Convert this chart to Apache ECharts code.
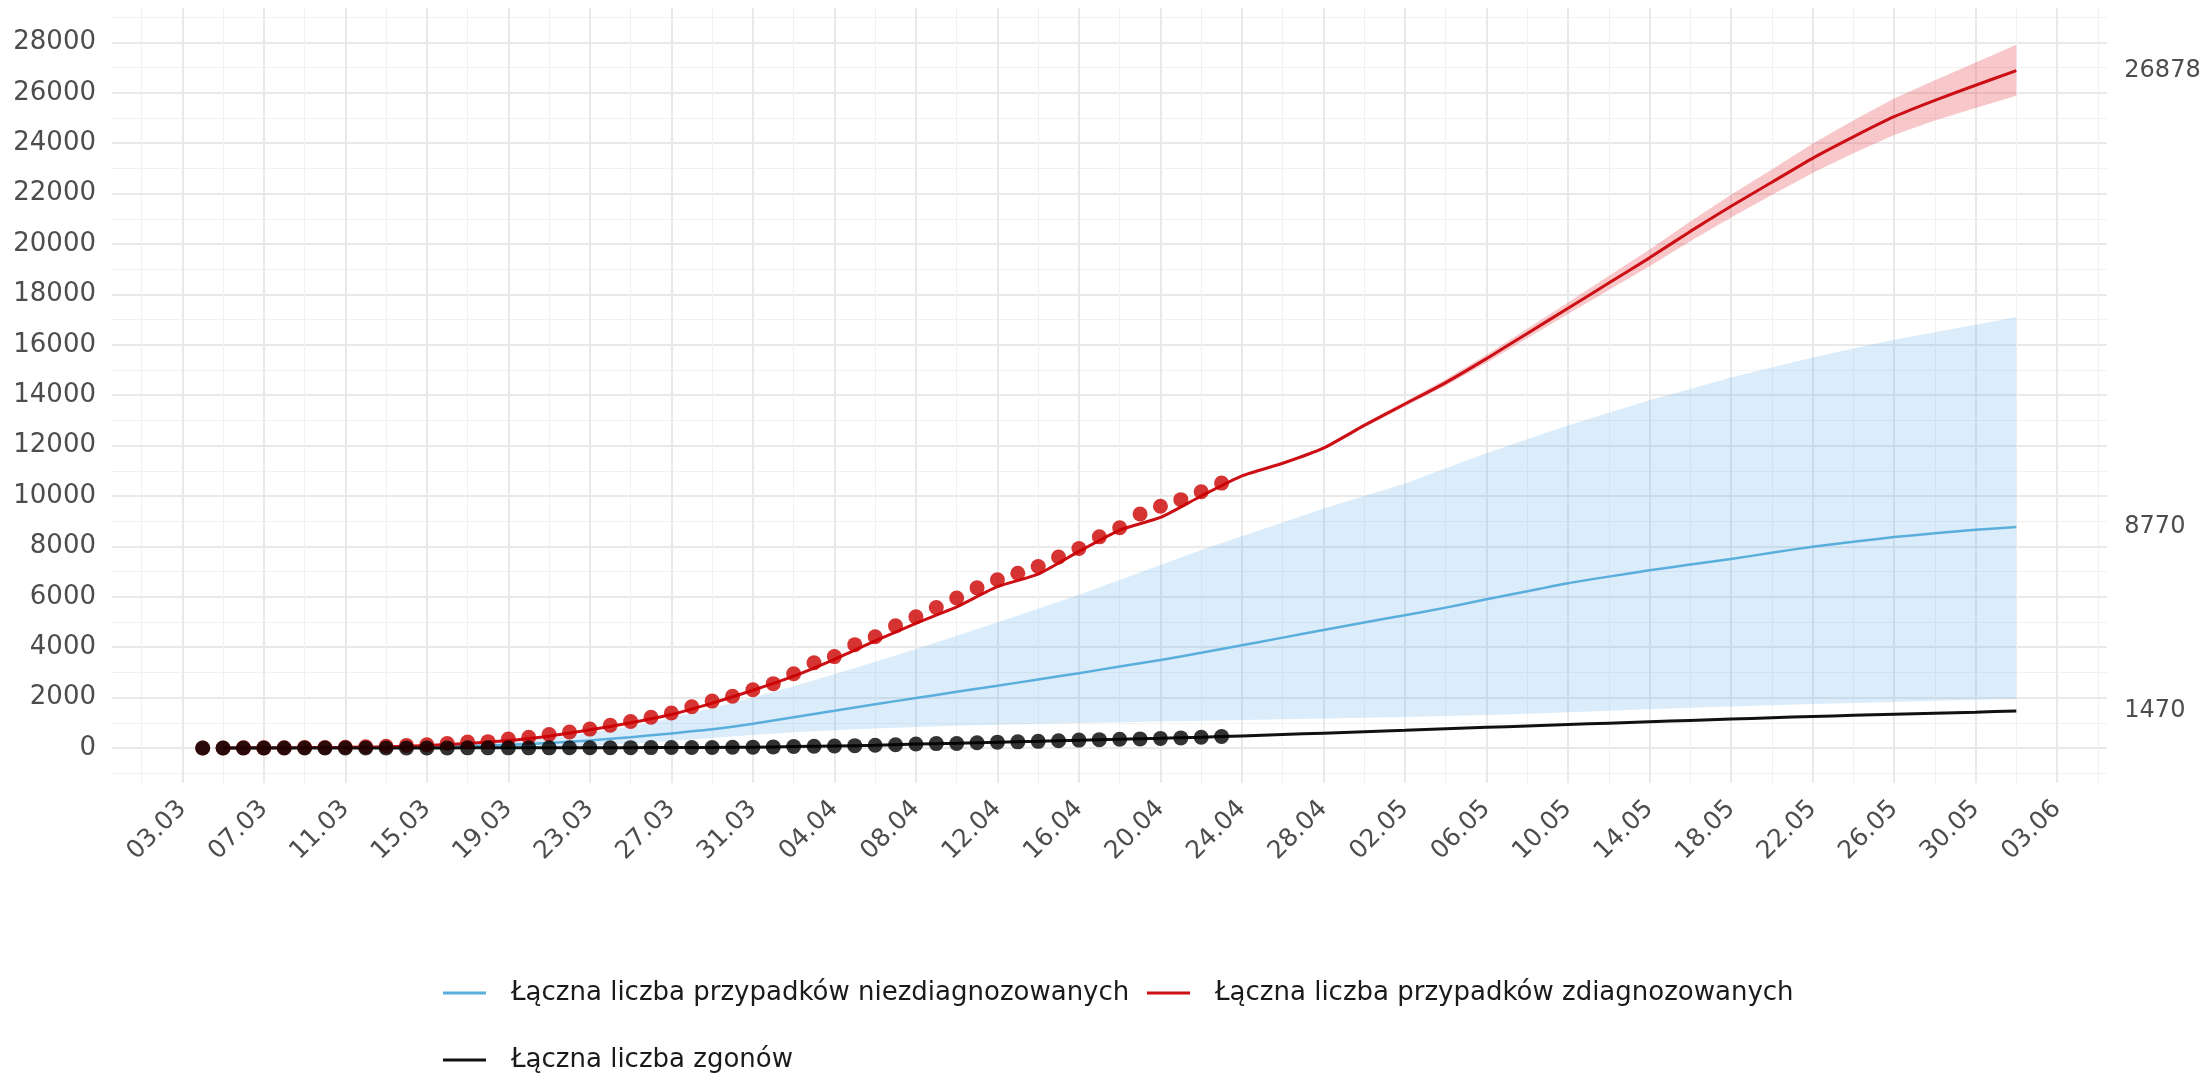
<!DOCTYPE html>
<html><head><meta charset="utf-8">
<script src="https://cdn.jsdelivr.net/npm/echarts@6/dist/echarts.min.js"></script>
<style>html,body{margin:0;padding:0;background:#fff}#chart{width:2208px;height:1081px}</style>
</head><body><div id="chart"></div>
<script>
// x = days since 03.03 (day 0); observed data start at day 1 (04.03)
const xTickDays   = [0,4,8,12,16,20,24,28,32,36,40,44,48,52,56,60,64,68,72,76,80,84,88,92];
const xTickLabels = ['03.03','07.03','11.03','15.03','19.03','23.03','27.03','31.03','04.04','08.04','12.04','16.04','20.04','24.04','28.04','02.05','06.05','10.05','14.05','18.05','22.05','26.05','30.05','03.06'];
const xMinorDays  = [-2,2,6,10,14,18,22,26,30,34,38,42,46,50,54,58,62,66,70,74,78,82,86,90,94];
const yTicks      = [0,2000,4000,6000,8000,10000,12000,14000,16000,18000,20000,22000,24000,26000,28000];
const yMinor      = [-1000,1000,3000,5000,7000,9000,11000,13000,15000,17000,19000,21000,23000,25000,27000,29000];

// observed daily values, days 1..51 (04.03 - 23.04)
const obsCases  = [1,1,5,6,11,17,22,31,51,68,104,125,177,238,251,355,425,536,634,749,901,1051,1221,1389,1638,1862,2055,2311,2554,2946,3383,3627,4102,4413,4848,5205,5575,5955,6356,6674,6934,7202,7582,7918,8379,8742,9287,9593,9856,10169,10511];
const obsDeaths = [0,0,0,0,0,0,0,0,1,2,3,3,4,5,5,5,5,5,7,8,10,14,16,17,18,22,31,33,43,57,71,79,94,107,129,159,174,181,208,232,245,263,286,314,332,347,360,380,401,426,454];

// model curves, sampled every second day
const modelDays   = [2,4,6,8,10,12,14,16,18,20,22,24,26,28,30,32,34,36,38,40,42,44,46,48,50,52,54,56,58,60,62,64,66,68,70,72,74,76,78,80,82,84,86,88,90];
const diagnosed   = [3,8,15,28,50,100,180,300,470,720,1000,1330,1780,2290,2850,3520,4250,4950,5600,6400,6900,7800,8650,9150,10000,10800,11300,11900,12800,13650,14500,15450,16450,17450,18450,19450,20500,21500,22450,23400,24250,25050,25700,26300,26878];
const undiagnosed = [2,5,10,18,30,50,80,130,200,300,430,580,740,960,1220,1480,1740,1980,2230,2470,2720,2970,3230,3490,3780,4080,4380,4680,4980,5270,5570,5900,6220,6540,6800,7050,7280,7500,7750,7990,8180,8370,8520,8660,8770];
const undiagLower = [1,2,3,5,8,13,20,35,55,90,170,280,400,520,620,700,770,830,880,920,960,990,1020,1050,1080,1110,1140,1170,1200,1230,1270,1310,1360,1420,1480,1540,1600,1650,1700,1750,1790,1830,1870,1910,1940];
const undiagUpper = [5,10,20,35,60,100,160,250,400,600,850,1180,1580,2000,2450,2930,3420,3930,4450,4980,5530,6080,6670,7260,7860,8400,8950,9500,10000,10500,11100,11700,12250,12800,13300,13800,14250,14700,15100,15500,15850,16200,16500,16800,17100];
const deaths      = [0,0,0,0,2,3,5,5,6,8,13,17,23,33,55,80,108,155,185,230,265,312,347,382,425,480,535,590,645,700,760,820,875,930,985,1040,1095,1150,1200,1250,1295,1340,1380,1420,1470];

// forecast band of diagnosed cases
const bandDays  = [50,52,54,56,58,60,62,64,66,68,70,72,74,76,78,80,82,84,86,88,90];
const diagLower = [9995,10780,11260,11840,12720,13550,14370,15290,16260,17220,18170,19120,20110,21050,21940,22820,23600,24330,24900,25400,25880];
const diagUpper = [10005,10820,11340,11960,12880,13750,14630,15610,16640,17680,18730,19780,20890,21950,22960,23980,24900,25770,26500,27200,27910];

const NAME_U = 'Łączna liczba przypadków niezdiagnozowanych';
const NAME_D = 'Łączna liczba przypadków zdiagnozowanych';
const NAME_Z = 'Łączna liczba zgonów';

const FONT = 'DejaVu Sans';
const RED = '#cc0f14', BLUE = '#5aaedc', BLACK = '#111111';
const pairs = (xs, ys) => xs.map((x, i) => [x, ys[i]]);

const chart = echarts.init(document.getElementById('chart'), null, {renderer: 'canvas'});

const legendBase = {
  orient: 'horizontal', padding: 0, icon: 'rect', itemWidth: 43, itemHeight: 3,
  selectedMode: false,
  formatter: n => '{g|}' + n,
  textStyle: {fontFamily: FONT, fontSize: 26, color: '#1a1a1a', lineHeight: 30, rich: {g: {width: 20}}}
};

const endLabel = (dist) => ({
  show: true, distance: dist, formatter: p => String(p.value[1]),
  fontFamily: FONT, fontSize: 24, color: '#4d4d4d'
});

// ribbon drawn as a polygon through the axis scales
function band(xs, lo, hi, color) {
  return {
    type: 'custom', silent: true, clip: true, z: 1,
    data: [[xs[0], lo[0]]],
    renderItem: (params, api) => {
      const top = xs.map((x, i) => api.coord([x, hi[i]]));
      const bot = xs.map((x, i) => api.coord([x, lo[i]])).reverse();
      return {type: 'polygon', shape: {points: top.concat(bot)}, style: {fill: color}};
    }
  };
}

const lineBase = {type: 'line', symbol: 'none', z: 2, smooth: 0.2};

const option = {
  backgroundColor: '#ffffff',
  animation: false,
  grid: {left: 112, right: 101, top: 8, bottom: 298, outerBoundsMode: 'none', containLabel: false},
  legend: [
    Object.assign({}, legendBase, {data: [NAME_U], left: 443, top: 978}),
    Object.assign({}, legendBase, {data: [NAME_D], left: 1147, top: 978}),
    Object.assign({}, legendBase, {data: [NAME_Z], left: 443, top: 1045})
  ],
  xAxis: [
    {
      type: 'value', min: -3.45, max: 94.45,
      axisLine: {show: false},
      axisTick: {show: false, customValues: xTickDays},
      axisLabel: {
        customValues: xTickDays, rotate: 45, margin: 22,
        fontFamily: FONT, fontSize: 25, color: '#4d4d4d',
        formatter: v => xTickLabels[xTickDays.indexOf(v)]
      },
      splitLine: {show: true, lineStyle: {color: '#e9e9e9', width: 2}}
    },
    {
      type: 'value', min: -3.45, max: 94.45, position: 'bottom',
      axisLine: {show: false},
      axisTick: {show: false, customValues: xMinorDays},
      axisLabel: {show: false},
      splitLine: {show: true, lineStyle: {color: '#f1f1f1', width: 1}}
    }
  ],
  yAxis: [
    {
      type: 'value', min: -1389, max: 29365,
      axisLine: {show: false},
      axisTick: {show: false, customValues: yTicks},
      axisLabel: {customValues: yTicks, margin: 16, fontFamily: FONT, fontSize: 26, color: '#4d4d4d',
                  formatter: v => String(v)},
      splitLine: {show: true, lineStyle: {color: '#e9e9e9', width: 2}}
    },
    {
      type: 'value', min: -1389, max: 29365, position: 'left',
      axisLine: {show: false},
      axisTick: {show: false, customValues: yMinor},
      axisLabel: {show: false},
      splitLine: {show: true, lineStyle: {color: '#f1f1f1', width: 1}}
    }
  ],
  series: [
    band(modelDays, undiagLower, undiagUpper, 'rgba(90,174,230,0.22)'),
    band(bandDays, diagLower, diagUpper, 'rgba(232,70,80,0.30)'),
    Object.assign({}, lineBase, {name: NAME_U, data: pairs(modelDays, undiagnosed),
     itemStyle: {color: BLUE}, lineStyle: {color: BLUE, width: 2.5}, endLabel: endLabel(108)}),
    Object.assign({}, lineBase, {name: NAME_D, data: pairs(modelDays, diagnosed),
     itemStyle: {color: RED}, lineStyle: {color: RED, width: 3}, endLabel: endLabel(108)}),
    Object.assign({}, lineBase, {name: NAME_Z, data: pairs(modelDays, deaths),
     itemStyle: {color: BLACK}, lineStyle: {color: BLACK, width: 3}, endLabel: endLabel(108)}),
    {type: 'scatter', data: obsCases.map((v, i) => [i + 1, v]), symbolSize: 15, z: 3, itemStyle: {color: '#cc0000'}, silent: true},
    {type: 'scatter', data: obsDeaths.map((v, i) => [i + 1, v]), symbolSize: 15, z: 3, itemStyle: {color: '#000000'}, silent: true}
  ]
};
chart.setOption(option);
</script>
</body></html>
